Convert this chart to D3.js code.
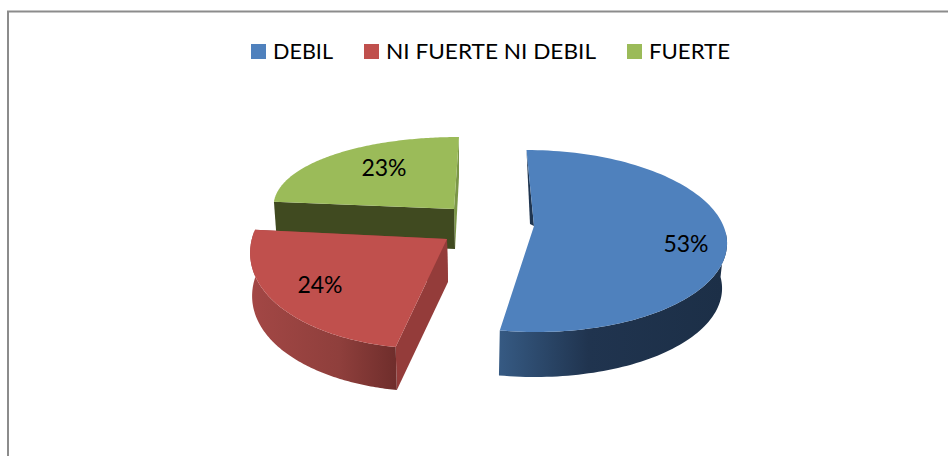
<!DOCTYPE html>
<html><head><meta charset="utf-8">
<script src="https://cdnjs.cloudflare.com/ajax/libs/d3/7.8.5/d3.min.js"></script>
<style>html,body{margin:0;padding:0;background:#fff}svg{display:block}text{font-family:Lato,"Open Sans",sans-serif;fill:#000;font-weight:400}</style>
</head><body><svg id="c" width="948" height="456"></svg>
<script>
const categories = ["DEBIL", "NI FUERTE NI DEBIL", "FUERTE"];
const values = [53, 24, 23];
const topColors = ["#4f81bd", "#c0504d", "#9bbb59"];

// Projected geometry of each exploded slice: apex, top-rim ellipse, extrusion.
const layout = [
  {ax:534,ay:226,cx:531.5,cy:241,rx:195.5,ry:91,b:5,  bcx:530,brx:192,depth:45,
   rim:["#365a83","#20344f","#1c2f47"],cutEnd:"#1f3550",cutStart:"#1f3550",sliver:true},
  {ax:447,ay:239,cx:452,cy:243,rx:201,ry:106,b:-19,bcx:453,brx:200,depth:43,
   rim:["#a34745","#8f3f3c","#6e2d2b"],cutEnd:"#943c3a",cutStart:"#943c3a"},
  {ax:454,ay:209,cx:472,cy:211,rx:198,ry:74,b:13, bcx:472,brx:195,depth:40,
   rim:null,cutEnd:"#7b9647",cutStart:"#404a20"}
];
const legendX = [251, 364, 627];
const legendW = [60, 210, 81];

const svg = d3.select("#c");
svg.append("path").attr("d","M8,456V11.5H948").attr("fill","none").attr("stroke","#8c8c8c").attr("stroke-width",2);

const arcs = d3.pie().sort(null).value(d=>d)(values);
const rimPt = (g,a)=>[g.cx+g.rx*Math.sin(a)-g.b*Math.cos(a), g.cy-g.ry*Math.cos(a)];
const botPt = (g,a)=>[g.bcx+g.brx*Math.sin(a)-g.b*Math.cos(a), g.cy+g.depth-g.ry*Math.cos(a)];
const samples = (a0,a1)=>d3.range(0,121).map(i=>a0+(a1-a0)*i/120);
const line = d3.line();
const defs = svg.append("defs");

function drawSlice(i){
  const g = layout[i], s = arcs[i], a0 = s.startAngle, a1 = s.endAngle, A = samples(a0,a1);
  const apex=[g.ax,g.ay], apexB=[g.ax+1,g.ay+g.depth];
  const group = svg.append("g");
  // cut faces
  if(g.sliver){
    group.append("path").attr("fill",g.cutStart)
      .attr("d",line([rimPt(g,a0),[g.ax-4,g.ay-2],apex])+"Z");
  } else {
    group.append("path").attr("fill",g.cutEnd)
      .attr("d",line([rimPt(g,a1),botPt(g,a1),apexB,apex])+"Z");
    group.append("path").attr("fill",g.cutStart)
      .attr("d",line([rimPt(g,a0),botPt(g,a0),apexB,apex])+"Z");
  }
  // visible outer wall: lower half of the rim
  if(g.rim){
    const front = A.filter(a=>Math.cos(a)<0.12);
    const grad = defs.append("linearGradient").attr("id","w"+i).attr("gradientUnits","userSpaceOnUse")
      .attr("x1", i===0?499:250).attr("x2", i===0?722:398).attr("y1",0).attr("y2",0);
    const stops = i===0?[0,.4,1]:[0,.6,1];
    g.rim.forEach((c,k)=>grad.append("stop").attr("offset",stops[k]).attr("stop-color",c));
    group.append("path").attr("fill","url(#w"+i+")")
      .attr("d",line(front.map(a=>rimPt(g,a)).concat(front.slice().reverse().map(a=>botPt(g,a))))+"Z");
  }
  // top face
  group.append("path").attr("fill",topColors[i])
    .attr("d",line([apex].concat(A.map(a=>rimPt(g,a))))+"Z");
}
[2,0,1].forEach(drawSlice);

// labels
const labelPos = [[686,244],[320,285],[384,168]];
values.forEach((v,i)=>svg.append("text").attr("x",labelPos[i][0]).attr("y",labelPos[i][1])
  .attr("dy","0.35em").attr("text-anchor","middle").attr("font-size",23).text(v+"%"));

// legend
categories.forEach((c,i)=>{
  svg.append("rect").attr("x",legendX[i]).attr("y",44).attr("width",15).attr("height",15).attr("fill",topColors[i]);
  svg.append("text").attr("x",legendX[i]+22).attr("y",59).attr("font-size",21)
    .attr("textLength",legendW[i]).attr("lengthAdjust","spacingAndGlyphs").text(c);
});
</script></body></html>
